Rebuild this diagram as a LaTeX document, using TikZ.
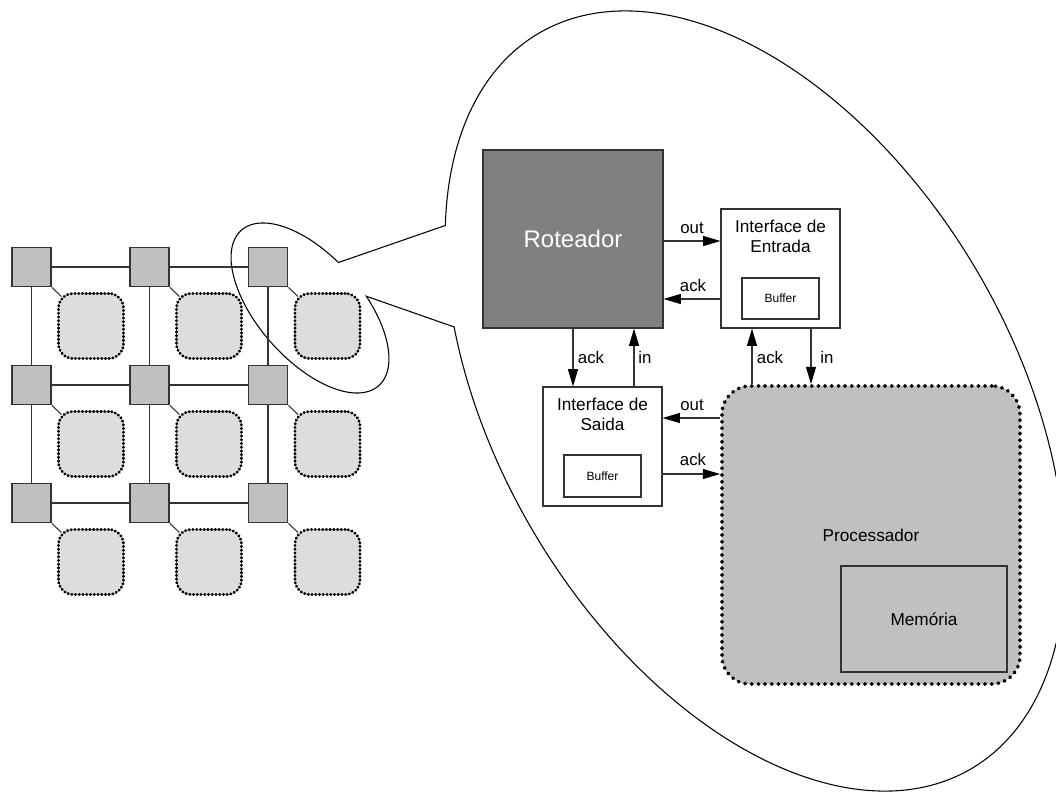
\documentclass[tikz,border=0pt]{standalone}
\usepackage{fontspec}
\setmainfont{Liberation Sans}
\usetikzlibrary{arrows.meta,calc}
\definecolor{edge}{HTML}{333333}
\definecolor{nodegray}{HTML}{C0C0C0}
\definecolor{tilegray}{HTML}{DDDDDD}
\definecolor{routerdark}{HTML}{808080}
\begin{document}
\begin{tikzpicture}[x=0.75pt,y=-0.75pt,
  router/.style={draw=edge, fill=nodegray, line width=1.1pt, minimum width=29.5pt, minimum height=29.5pt, inner sep=0pt},
  tile/.style={draw=black, fill=tilegray, line width=2.1pt, dash pattern=on 0.4pt off 2.4pt, line cap=round, rounded corners=11pt, minimum width=48.75pt, minimum height=48.75pt, inner sep=0pt},
  link/.style={draw=edge, line width=0.8pt},
  box/.style={draw=edge, fill=white, line width=0.8pt, inner sep=0pt},
  sig/.style={draw=edge, line width=0.8pt, -{Triangle[length=13pt,width=7.5pt,color=black]}},
  lbl/.style={font=\fontsize{12.6}{14}\selectfont, inner sep=0pt},
  iftext/.style={font=\fontsize{12.9}{15}\selectfont, align=center, inner sep=0pt, anchor=north},
  buftext/.style={font=\fontsize{9}{10}\selectfont}]
\useasboundingbox (0,0) rectangle (1056,792);
\clip (0,0) rectangle (1056,792);

% zoom callout: small ellipse around one tile joined to the large ellipse
\draw[black, line width=0.8pt]
  plot[domain=286:621.6, samples=200] ({310+68.7*cos(\x)-38.9*sin(\x)},{308+77.7*cos(\x)+34.5*sin(\x)})
  -- plot[domain=136.3:480.5, samples=300] ({755+216.5*cos(\x)-221.7*sin(\x)},{401+367.6*cos(\x)+130.6*sin(\x)})
  -- cycle;

% 3x3 mesh of routers with their processing tiles
\foreach \i/\y in {1/267,2/385,3/503}{
  \foreach \j/\x in {1/31.5,2/149.5,3/268}{
    \node[router] (r\i\j) at (\x,\y) {};
    \node[tile] (p\i\j) at (\x+59.5,\y+59) {};
    \draw[link] (r\i\j.south east) -- ($(p\i\j.north west)+(4.4,4.4)$);
  }}
\foreach \i in {1,2,3}{
  \draw[link] (r\i1) -- (r\i2);
  \draw[link] (r\i2) -- (r\i3);
  \draw[link] (r1\i) -- (r2\i);
  \draw[link] (r2\i) -- (r3\i);
}

% detailed tile
\node[draw=edge, fill=routerdark, line width=0.8pt, minimum width=135pt, minimum height=133.5pt, inner sep=0pt,
      text=white, font=\fontsize{18}{20}\selectfont] (rot) at (573,239) {Roteador};

\node[box, minimum width=89.25pt, minimum height=89.25pt] (ient) at (780.5,268.5) {};
\node[iftext] (tent) at (780.5,220) {Interface de\\Entrada};
\node[box, minimum width=57.75pt, minimum height=30.75pt, buftext] (bent) at (780.5,298.5) {Buffer};

\node[box, minimum width=89.25pt, minimum height=89.25pt] (isai) at (602.5,446.5) {};
\node[iftext] (tsai) at (602.5,398) {Interface de\\Saida};
\node[box, minimum width=57.75pt, minimum height=31.5pt, buftext] (bsai) at (602.5,476) {Buffer};

\node[draw=black, fill=nodegray, line width=2.8pt, dash pattern=on 0.4pt off 4.6pt, line cap=round,
      rounded corners=21pt, minimum width=223.5pt, minimum height=223.5pt, inner sep=0pt,
      font=\fontsize{12.9}{15}\selectfont] (proc) at (871,535) {Processador};
\node[draw=edge, fill=nodegray, line width=0.8pt, minimum width=124.5pt, minimum height=79.5pt, inner sep=0pt,
      font=\fontsize{12.9}{15}\selectfont] (mem) at (924,619) {Memória};

% handshake signals
\draw[sig] (rot.east |- 0,241) -- (ient.west |- 0,241);
\draw[sig] (ient.west |- 0,299) -- (rot.east |- 0,299);
\draw[sig] (rot.south -| 573,0) -- (isai.north -| 573,0);
\draw[sig] (isai.north -| 634,0) -- (rot.south -| 634,0);
\draw[sig] (proc.north -| 752,0) -- (ient.south -| 752,0);
\draw[sig] (ient.south -| 811,0) -- (proc.north -| 811,0);
\draw[sig] (proc.west |- 0,418) -- (isai.east |- 0,418);
\draw[sig] (isai.east |- 0,474) -- (proc.west |- 0,474);

\node[lbl] (lout1) at (692,228) {out};
\node[lbl] (lack1) at (693,285) {ack};
\node[lbl] (lack2) at (591,357) {ack};
\node[lbl] (lin1) at (645,357) {in};
\node[lbl] (lack3) at (770,357) {ack};
\node[lbl] (lin2) at (827,357) {in};
\node[lbl] (lout2) at (692,405) {out};
\node[lbl] (lack4) at (693,459) {ack};
\end{tikzpicture}
\end{document}
